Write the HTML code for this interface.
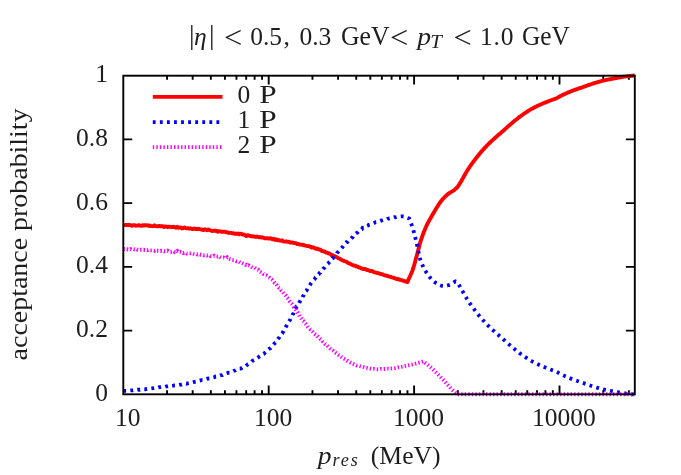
<!DOCTYPE html>
<html lang="en"><head><meta charset="utf-8"><title>acceptance probability</title>
<style>html,body{margin:0;padding:0;background:#fff}svg{display:block;will-change:transform}</style></head>
<body>
<svg width="681" height="475" viewBox="0 0 681 475" font-family="'Liberation Serif', serif" font-size="25.5" fill="#1e1e1e">
<rect width="681" height="475" fill="#fff"/>
<path d="M167.07,394.3 v-4.1 M167.07,75.7 v4.1 M192.67,394.3 v-4.1 M192.67,75.7 v4.1 M210.84,394.3 v-4.1 M210.84,75.7 v4.1 M224.93,394.3 v-4.1 M224.93,75.7 v4.1 M236.44,394.3 v-4.1 M236.44,75.7 v4.1 M246.18,394.3 v-4.1 M246.18,75.7 v4.1 M254.61,394.3 v-4.1 M254.61,75.7 v4.1 M262.05,394.3 v-4.1 M262.05,75.7 v4.1 M268.70,394.3 v-8.9 M268.70,75.7 v8.9 M312.47,394.3 v-4.1 M312.47,75.7 v4.1 M338.07,394.3 v-4.1 M338.07,75.7 v4.1 M356.24,394.3 v-4.1 M356.24,75.7 v4.1 M370.33,394.3 v-4.1 M370.33,75.7 v4.1 M381.84,394.3 v-4.1 M381.84,75.7 v4.1 M391.58,394.3 v-4.1 M391.58,75.7 v4.1 M400.01,394.3 v-4.1 M400.01,75.7 v4.1 M407.45,394.3 v-4.1 M407.45,75.7 v4.1 M414.10,394.3 v-8.9 M414.10,75.7 v8.9 M457.87,394.3 v-4.1 M457.87,75.7 v4.1 M483.47,394.3 v-4.1 M483.47,75.7 v4.1 M501.64,394.3 v-4.1 M501.64,75.7 v4.1 M515.73,394.3 v-4.1 M515.73,75.7 v4.1 M527.24,394.3 v-4.1 M527.24,75.7 v4.1 M536.98,394.3 v-4.1 M536.98,75.7 v4.1 M545.41,394.3 v-4.1 M545.41,75.7 v4.1 M552.85,394.3 v-4.1 M552.85,75.7 v4.1 M559.50,394.3 v-8.9 M559.50,75.7 v8.9 M603.27,394.3 v-4.1 M603.27,75.7 v4.1 M628.87,394.3 v-4.1 M628.87,75.7 v4.1 M123.3,330.58 h8.9 M634.8,330.58 h-8.9 M123.3,266.86 h8.9 M634.8,266.86 h-8.9 M123.3,203.14 h8.9 M634.8,203.14 h-8.9 M123.3,139.42 h8.9 M634.8,139.42 h-8.9" stroke="#000" stroke-width="1.9" fill="none"/>
<path d="M123.30,225.00 L124.50,225.15 L125.70,224.99 L126.90,224.81 L128.10,225.01 L129.30,224.86 L130.50,225.28 L131.69,225.78 L132.89,225.16 L134.09,225.16 L135.29,225.60 L136.49,225.59 L137.69,225.54 L138.89,225.21 L140.09,225.58 L141.29,225.89 L142.49,225.20 L143.69,225.57 L144.89,225.09 L146.08,225.36 L147.28,225.22 L148.48,225.85 L149.68,225.53 L150.88,226.14 L152.08,226.15 L153.28,226.08 L154.48,225.29 L155.68,226.05 L156.87,226.28 L158.07,226.39 L159.27,225.85 L160.47,226.28 L161.67,226.15 L162.87,226.27 L164.07,226.99 L165.27,226.38 L166.47,226.71 L167.66,227.10 L168.86,226.64 L170.06,226.87 L171.26,227.02 L172.46,227.07 L173.65,226.68 L174.85,227.23 L176.05,227.76 L177.25,226.80 L178.44,227.75 L179.64,227.57 L180.84,227.39 L182.03,228.43 L183.23,228.08 L184.43,227.48 L185.62,228.03 L186.82,228.32 L188.01,228.14 L189.21,228.56 L190.40,228.40 L191.60,228.77 L192.79,229.16 L193.99,228.51 L195.18,228.94 L196.38,228.81 L197.57,229.14 L198.77,228.78 L199.96,229.11 L201.16,229.37 L202.35,229.88 L203.54,230.09 L204.74,229.32 L205.93,229.63 L207.13,230.27 L208.32,229.44 L209.51,230.12 L210.71,230.38 L211.90,230.99 L213.09,230.91 L214.29,230.68 L215.48,230.79 L216.67,230.97 L217.86,231.74 L219.06,231.17 L220.25,231.35 L221.44,231.73 L222.63,231.70 L223.82,231.82 L225.01,231.64 L226.20,232.19 L227.39,232.19 L228.58,232.93 L229.77,232.91 L230.96,232.84 L232.15,233.26 L233.33,233.08 L234.52,233.76 L235.70,233.57 L236.89,233.97 L238.07,233.51 L239.26,234.27 L240.44,233.76 L241.62,233.84 L242.81,234.64 L243.99,234.63 L245.17,235.19 L246.36,236.10 L247.54,235.24 L248.73,235.49 L249.92,235.96 L251.10,236.23 L252.29,236.18 L253.48,236.34 L254.67,236.81 L255.85,236.92 L257.04,236.57 L258.23,237.05 L259.42,237.26 L260.61,237.07 L261.80,237.66 L262.98,237.47 L264.17,238.23 L265.36,238.15 L266.55,238.29 L267.73,238.26 L268.92,238.59 L270.10,238.19 L271.29,238.65 L272.47,239.31 L273.66,238.73 L274.84,239.84 L276.03,239.24 L277.21,240.20 L278.40,239.91 L279.58,240.60 L280.76,240.61 L281.94,240.31 L283.13,241.35 L284.31,241.62 L285.49,241.38 L286.67,241.54 L287.85,241.80 L289.03,241.79 L290.20,242.62 L291.38,242.38 L292.56,242.76 L293.73,242.80 L294.90,243.10 L296.08,243.17 L297.25,244.14 L298.42,244.00 L299.59,244.57 L300.76,244.58 L301.93,244.65 L303.10,245.02 L304.27,245.24 L305.43,245.67 L306.60,245.85 L307.77,246.16 L308.93,246.16 L310.09,246.61 L311.25,247.56 L312.41,247.27 L313.57,247.49 L314.72,248.20 L315.86,248.84 L317.00,248.49 L318.12,249.22 L319.24,249.55 L320.36,249.71 L321.47,250.78 L322.59,251.02 L323.71,251.48 L324.82,251.73 L325.93,252.48 L327.04,252.69 L328.15,253.25 L329.25,253.49 L330.35,253.95 L331.45,255.05 L332.54,255.10 L333.63,255.80 L334.71,256.24 L335.78,256.68 L336.85,257.21 L337.92,258.02 L338.99,258.35 L340.06,258.92 L341.14,259.49 L342.23,260.27 L343.31,260.67 L344.39,261.12 L345.48,261.42 L346.56,261.76 L347.65,262.78 L348.74,263.28 L349.83,263.54 L350.93,264.18 L352.03,264.70 L353.13,265.18 L354.24,265.65 L355.36,265.80 L356.48,266.64 L357.60,266.49 L358.73,267.33 L359.86,267.66 L361.00,268.13 L362.13,268.71 L363.27,269.02 L364.41,268.88 L365.55,269.15 L366.69,270.01 L367.83,270.02 L368.98,270.57 L370.12,271.08 L371.27,270.96 L372.42,271.22 L373.57,272.00 L374.72,272.30 L375.88,272.59 L377.02,272.98 L378.17,273.17 L379.32,273.40 L380.47,273.98 L381.62,274.18 L382.77,274.41 L383.92,275.12 L385.07,275.37 L386.23,275.78 L387.38,275.89 L388.53,276.28 L389.68,276.56 L390.83,276.91 L391.99,277.42 L393.14,277.59 L394.30,278.10 L395.45,278.43 L396.60,279.02 L397.76,278.82 L398.91,279.51 L400.06,279.71 L400.70,279.90 L401.43,280.13 L402.10,280.34 L402.72,280.53 L403.29,280.72 L403.82,280.90 L404.32,281.07 L404.81,281.24 L405.29,281.41 L405.77,281.58 L406.26,281.75 L406.77,281.92 L407.30,282.10 L407.75,281.11 L408.20,280.13 L408.65,279.16 L409.11,278.20 L409.56,277.23 L410.02,276.26 L410.47,275.28 L410.91,274.29 L411.35,273.28 L411.78,272.25 L412.20,271.19 L412.60,270.10 L412.99,268.98 L413.36,267.83 L413.73,266.65 L414.08,265.46 L414.43,264.25 L414.77,263.02 L415.11,261.78 L415.44,260.53 L415.78,259.27 L416.11,258.02 L416.45,256.76 L416.80,255.50 L417.15,254.23 L417.49,252.95 L417.82,251.65 L418.16,250.34 L418.49,249.02 L418.83,247.70 L419.17,246.38 L419.52,245.07 L419.87,243.78 L420.24,242.50 L420.61,241.24 L421.00,240.00 L421.40,238.78 L421.82,237.55 L422.25,236.33 L422.70,235.11 L423.15,233.91 L423.60,232.72 L424.06,231.55 L424.51,230.41 L424.97,229.30 L425.42,228.23 L425.87,227.19 L426.30,226.20 L426.73,225.25 L427.16,224.35 L427.59,223.48 L428.03,222.64 L428.46,221.84 L428.88,221.06 L429.30,220.31 L429.72,219.58 L430.13,218.86 L430.53,218.17 L430.92,217.48 L431.30,216.80 L431.67,216.14 L432.02,215.52 L432.36,214.92 L432.69,214.35 L433.02,213.79 L433.34,213.25 L433.66,212.72 L433.97,212.19 L434.30,211.65 L434.62,211.11 L434.96,210.57 L435.30,210.00 L435.65,209.42 L436.01,208.83 L436.37,208.23 L436.73,207.62 L437.10,207.02 L437.47,206.41 L437.84,205.81 L438.21,205.22 L438.58,204.64 L438.96,204.08 L439.33,203.53 L439.70,203.00 L440.07,202.49 L440.45,201.99 L440.82,201.50 L441.20,201.03 L441.57,200.57 L441.95,200.11 L442.33,199.67 L442.70,199.24 L443.08,198.81 L443.45,198.40 L443.83,198.00 L444.20,197.60 L444.57,197.22 L444.93,196.84 L445.29,196.48 L445.65,196.13 L446.00,195.79 L446.36,195.46 L446.72,195.14 L447.09,194.82 L447.45,194.51 L447.83,194.20 L448.21,193.90 L448.60,193.60 L449.00,193.31 L449.43,193.02 L449.86,192.74 L450.30,192.47 L450.75,192.20 L451.19,191.94 L451.64,191.69 L452.08,191.43 L452.51,191.17 L452.92,190.92 L453.32,190.66 L453.70,190.40 L454.06,190.14 L454.40,189.88 L454.72,189.62 L455.04,189.36 L455.34,189.10 L455.64,188.84 L455.93,188.59 L456.22,188.33 L456.51,188.07 L456.80,187.82 L457.10,187.56 L457.40,187.30 L457.65,186.92 L457.88,186.55 L458.12,186.20 L458.35,185.85 L458.58,185.50 L458.81,185.14 L459.05,184.78 L459.30,184.40 L459.55,183.99 L459.82,183.56 L460.10,183.10 L460.40,182.60 L460.72,182.06 L461.05,181.47 L461.40,180.85 L461.76,180.21 L462.13,179.54 L462.51,178.86 L462.90,178.16 L463.28,177.47 L463.67,176.78 L464.05,176.10 L464.43,175.44 L464.80,174.80 L465.16,174.18 L465.51,173.58 L465.86,172.99 L466.20,172.40 L466.55,171.82 L466.89,171.24 L467.25,170.65 L467.61,170.07 L467.98,169.47 L468.37,168.86 L468.77,168.24 L469.20,167.60 L469.65,166.94 L470.12,166.26 L470.60,165.57 L471.10,164.86 L471.62,164.15 L472.14,163.43 L472.67,162.71 L473.20,161.99 L473.73,161.28 L474.26,160.57 L474.78,159.88 L475.30,159.20 L475.81,158.53 L476.32,157.87 L476.82,157.22 L477.33,156.58 L477.83,155.94 L478.34,155.30 L478.85,154.67 L479.36,154.03 L479.88,153.40 L480.41,152.77 L480.95,152.14 L481.50,151.50 L482.06,150.86 L482.63,150.21 L483.22,149.56 L483.81,148.91 L484.40,148.27 L485.01,147.62 L485.61,146.98 L486.21,146.34 L486.82,145.71 L487.42,145.10 L488.01,144.49 L488.60,143.90 L489.18,143.32 L489.75,142.77 L490.33,142.22 L490.89,141.68 L491.46,141.15 L492.03,140.63 L492.59,140.11 L493.16,139.60 L493.74,139.08 L494.32,138.56 L494.90,138.03 L495.50,137.50 L496.10,136.96 L496.72,136.42 L497.34,135.88 L497.96,135.34 L498.59,134.80 L499.23,134.26 L499.86,133.71 L500.49,133.17 L501.12,132.63 L501.75,132.08 L502.38,131.54 L503.00,131.00 L503.61,130.46 L504.19,129.94 L504.77,129.42 L505.34,128.90 L505.91,128.38 L506.48,127.86 L507.06,127.34 L507.66,126.80 L508.28,126.25 L508.92,125.69 L509.59,125.10 L510.30,124.50 L511.05,123.87 L511.83,123.20 L512.64,122.52 L513.48,121.81 L514.34,121.09 L515.21,120.37 L516.10,119.64 L516.99,118.92 L517.87,118.21 L518.76,117.52 L519.64,116.84 L520.50,116.20 L521.36,115.58 L522.21,114.96 L523.07,114.35 L523.93,113.76 L524.79,113.17 L525.65,112.60 L526.51,112.04 L527.37,111.49 L528.23,110.95 L529.09,110.42 L529.94,109.90 L530.80,109.40 L531.65,108.91 L532.51,108.44 L533.36,107.98 L534.21,107.54 L535.06,107.10 L535.91,106.68 L536.76,106.27 L537.60,105.86 L538.45,105.46 L539.30,105.07 L540.15,104.68 L541.00,104.30 L541.87,103.92 L542.76,103.53 L543.66,103.16 L544.58,102.78 L545.49,102.41 L546.40,102.06 L547.29,101.71 L548.16,101.37 L548.99,101.05 L549.78,100.75 L550.52,100.46 L551.20,100.20 L551.82,99.96 L552.38,99.75 L552.89,99.57 L553.37,99.41 L553.81,99.26 L554.22,99.12 L554.61,98.98 L555.00,98.85 L555.38,98.71 L555.77,98.56 L556.18,98.39 L556.60,98.20 L557.02,98.00 L557.41,97.80 L557.77,97.60 L558.13,97.39 L558.48,97.18 L558.84,96.96 L559.22,96.73 L559.63,96.49 L560.07,96.24 L560.55,95.97 L561.09,95.70 L561.70,95.40 L562.38,95.08 L563.12,94.74 L563.91,94.37 L564.75,93.99 L565.62,93.60 L566.53,93.20 L567.45,92.80 L568.37,92.40 L569.30,92.00 L570.22,91.62 L571.13,91.25 L572.00,90.90 L572.86,90.57 L573.72,90.25 L574.58,89.94 L575.43,89.63 L576.29,89.34 L577.15,89.04 L578.01,88.75 L578.87,88.47 L579.72,88.18 L580.58,87.89 L581.44,87.60 L582.30,87.30 L583.16,87.00 L584.02,86.69 L584.88,86.39 L585.73,86.08 L586.59,85.77 L587.45,85.46 L588.31,85.16 L589.17,84.86 L590.02,84.56 L590.88,84.27 L591.74,83.98 L592.60,83.70 L593.46,83.43 L594.32,83.15 L595.18,82.89 L596.03,82.62 L596.89,82.36 L597.75,82.11 L598.61,81.86 L599.47,81.61 L600.33,81.37 L601.18,81.14 L602.04,80.92 L602.90,80.70 L603.76,80.49 L604.62,80.29 L605.48,80.10 L606.33,79.92 L607.19,79.75 L608.05,79.58 L608.91,79.41 L609.77,79.24 L610.63,79.08 L611.48,78.92 L612.34,78.76 L613.20,78.60 L614.06,78.44 L614.91,78.28 L615.75,78.12 L616.60,77.96 L617.44,77.81 L618.29,77.66 L619.14,77.51 L619.99,77.36 L620.85,77.21 L621.73,77.07 L622.61,76.94 L623.50,76.80 L624.41,76.67 L625.33,76.54 L626.25,76.42 L627.19,76.30 L628.14,76.19 L629.09,76.07 L630.04,75.96 L631.00,75.85 L631.95,75.74 L632.91,75.63 L633.86,75.52 L634.80,75.40" stroke="#ff0000" stroke-width="3.9" fill="none" stroke-linejoin="round"/>
<path d="M123.30,391.00 L124.50,390.80 L125.69,390.78 L126.89,390.78 L128.09,390.63 L129.28,390.56 L130.48,390.44 L131.68,390.47 L132.87,390.28 L134.07,390.01 L135.27,390.04 L136.46,389.83 L137.66,389.61 L138.85,389.73 L140.05,389.77 L141.24,389.54 L142.43,389.30 L143.63,389.19 L144.82,389.24 L146.01,389.01 L147.20,388.86 L148.39,388.71 L149.58,388.57 L150.77,388.50 L151.97,388.33 L153.16,388.14 L154.35,387.87 L155.54,387.87 L156.73,387.60 L157.92,387.63 L159.11,387.23 L160.30,387.20 L161.49,387.06 L162.68,386.77 L163.87,386.96 L165.06,386.79 L166.25,386.44 L167.45,386.44 L168.64,386.26 L169.83,385.78 L171.02,385.96 L172.21,385.78 L173.40,385.65 L174.59,385.36 L175.78,385.30 L176.97,385.14 L178.16,385.14 L179.35,384.85 L180.53,384.63 L181.72,384.62 L182.90,384.15 L184.08,383.96 L185.26,383.56 L186.44,383.77 L187.61,383.46 L188.79,383.21 L189.96,382.94 L191.14,382.61 L192.31,382.37 L193.48,382.05 L194.65,381.80 L195.83,381.57 L196.99,381.51 L198.16,381.10 L199.33,380.74 L200.50,380.39 L201.67,380.10 L202.84,380.16 L204.00,379.72 L205.17,379.38 L206.34,379.03 L207.50,378.63 L208.67,378.51 L209.84,378.38 L211.00,377.89 L212.17,377.62 L213.33,377.33 L214.49,377.08 L215.65,376.49 L216.81,376.40 L217.97,375.98 L219.12,375.94 L220.27,375.33 L221.42,375.22 L222.57,375.03 L223.71,374.35 L224.86,373.93 L226.00,373.70 L227.13,373.28 L228.27,372.72 L229.41,372.59 L230.54,372.48 L231.67,371.67 L232.80,371.27 L233.93,370.71 L235.05,370.54 L236.18,369.83 L237.30,369.43 L238.42,369.44 L239.53,368.59 L240.65,368.52 L241.75,368.14 L242.86,367.42 L243.95,366.99 L245.03,366.73 L246.08,365.74 L247.11,365.04 L248.09,364.21 L249.04,363.74 L249.96,363.26 L250.89,362.40 L251.86,361.31 L252.86,360.66 L253.87,360.08 L254.88,359.60 L255.89,358.85 L256.90,358.29 L257.90,357.64 L258.88,356.84 L259.86,356.19 L260.83,355.54 L261.81,354.79 L262.79,354.22 L263.77,353.82 L264.74,352.84 L265.71,352.01 L266.66,350.90 L267.59,350.60 L268.51,349.31 L269.40,348.63 L270.28,348.30 L271.12,347.42 L271.95,346.37 L272.77,345.14 L273.57,344.54 L274.36,343.57 L275.13,342.95 L275.89,342.39 L276.64,340.99 L277.38,339.81 L278.10,338.76 L278.81,338.05 L279.51,337.05 L280.20,335.84 L280.88,335.15 L281.55,333.85 L282.20,333.38 L282.84,332.35 L283.47,331.34 L284.09,329.94 L284.70,329.14 L285.31,327.95 L285.91,326.85 L286.51,325.82 L287.10,324.55 L287.69,323.47 L288.28,322.96 L288.86,321.68 L289.45,320.73 L290.03,319.87 L290.61,318.15 L291.19,317.33 L291.76,316.51 L292.32,315.50 L292.86,314.24 L293.38,313.51 L293.88,312.22 L294.38,310.77 L294.89,309.75 L295.42,309.11 L295.99,307.97 L296.59,306.34 L297.23,306.14 L297.89,304.95 L298.55,304.13 L299.19,302.69 L299.83,301.69 L300.46,300.46 L301.07,300.35 L301.67,298.63 L302.26,298.03 L302.85,296.42 L303.45,295.58 L304.04,294.07 L304.64,293.36 L305.24,292.67 L305.85,291.07 L306.48,290.63 L307.10,289.42 L307.74,288.06 L308.39,287.19 L309.05,286.20 L309.73,285.31 L310.41,284.20 L311.12,283.16 L311.83,282.32 L312.56,281.19 L313.30,280.18 L314.06,279.56 L314.81,278.86 L315.58,277.34 L316.35,276.80 L317.13,275.72 L317.92,274.73 L318.70,274.28 L319.49,273.04 L320.28,272.63 L321.08,271.17 L321.88,270.56 L322.68,269.52 L323.48,268.50 L324.28,267.93 L325.08,266.86 L325.88,266.15 L326.69,265.10 L327.49,263.96 L328.29,263.31 L329.10,262.45 L329.90,261.77 L330.70,260.43 L331.49,259.74 L332.28,258.44 L333.07,258.10 L333.86,256.78 L334.64,255.70 L335.43,255.21 L336.21,254.57 L337.00,253.05 L337.78,252.24 L338.56,251.41 L339.35,250.42 L340.13,249.86 L340.92,248.68 L341.70,247.79 L342.49,247.18 L343.28,245.98 L344.08,245.35 L344.88,244.14 L345.69,243.21 L346.52,242.20 L347.38,242.18 L348.28,240.90 L349.21,240.27 L350.09,239.40 L350.95,238.60 L351.78,237.71 L352.62,237.25 L353.46,235.76 L354.32,234.82 L355.21,234.12 L356.10,233.25 L357.00,232.90 L357.91,232.14 L358.84,231.00 L359.79,230.18 L360.75,229.67 L361.72,229.33 L362.71,227.79 L363.72,227.83 L364.75,226.89 L365.80,226.74 L366.87,225.77 L367.95,225.41 L369.05,224.67 L370.15,224.30 L371.26,224.30 L372.38,223.76 L373.51,223.13 L374.65,222.68 L375.80,222.14 L376.95,222.07 L378.09,221.77 L379.23,221.38 L380.37,221.00 L381.51,220.43 L382.65,220.26 L383.80,219.91 L384.95,219.82 L386.11,219.60 L387.27,218.94 L388.43,218.54 L389.60,218.38 L390.77,218.03 L391.94,217.75 L393.12,217.62 L394.29,217.22 L395.48,217.29 L396.66,216.98 L397.85,216.88 L399.04,216.65 L400.03,216.56 L400.56,216.50 L401.07,216.46 L401.59,216.43 L402.10,216.41 L402.60,216.42 L403.11,216.45 L403.60,216.50 L404.09,216.58 L404.57,216.69 L405.04,216.83 L405.51,216.99 L405.98,217.16 L406.44,217.35 L406.90,217.55 L407.36,217.74 L407.81,217.94 L408.27,218.14 L408.74,218.33 L409.20,218.50 L409.42,219.07 L409.64,219.65 L409.86,220.22 L410.08,220.79 L410.30,221.36 L410.52,221.94 L410.75,222.51 L410.96,223.09 L411.18,223.66 L411.39,224.24 L411.60,224.82 L411.80,225.40 L412.00,225.99 L412.20,226.58 L412.39,227.17 L412.58,227.77 L412.77,228.36 L412.96,228.96 L413.14,229.56 L413.32,230.16 L413.49,230.75 L413.67,231.34 L413.84,231.92 L414.00,232.50 L414.16,233.07 L414.31,233.63 L414.46,234.18 L414.60,234.72 L414.74,235.26 L414.88,235.81 L415.01,236.35 L415.14,236.90 L415.28,237.46 L415.42,238.02 L415.56,238.60 L415.70,239.20 L415.84,239.80 L415.99,240.40 L416.13,241.00 L416.27,241.61 L416.42,242.22 L416.56,242.84 L416.71,243.48 L416.86,244.14 L417.01,244.81 L417.17,245.51 L417.33,246.24 L417.50,247.00 L417.67,247.80 L417.85,248.66 L418.02,249.55 L418.20,250.47 L418.38,251.41 L418.57,252.37 L418.76,253.33 L418.96,254.27 L419.16,255.21 L419.36,256.11 L419.58,256.98 L419.80,257.80 L420.03,258.58 L420.26,259.34 L420.50,260.08 L420.74,260.79 L420.98,261.49 L421.24,262.18 L421.50,262.85 L421.76,263.51 L422.04,264.16 L422.32,264.81 L422.60,265.45 L422.90,266.10 L423.20,266.74 L423.50,267.36 L423.81,267.97 L424.11,268.57 L424.43,269.16 L424.76,269.74 L425.09,270.33 L425.44,270.91 L425.80,271.50 L426.18,272.09 L426.58,272.69 L427.00,273.30 L427.44,273.93 L427.89,274.58 L428.35,275.24 L428.83,275.91 L429.33,276.58 L429.84,277.25 L430.36,277.91 L430.90,278.56 L431.45,279.19 L432.02,279.79 L432.60,280.36 L433.20,280.90 L433.82,281.42 L434.47,281.92 L435.15,282.42 L435.85,282.91 L436.57,283.37 L437.29,283.81 L438.01,284.22 L438.74,284.60 L439.45,284.95 L440.16,285.24 L440.84,285.50 L441.50,285.70 L442.14,285.85 L442.77,285.95 L443.39,286.00 L444.00,286.01 L444.60,285.99 L445.19,285.93 L445.78,285.84 L446.37,285.73 L446.95,285.59 L447.54,285.44 L448.12,285.28 L448.70,285.10 L449.28,284.90 L449.86,284.66 L450.43,284.39 L451.00,284.10 L451.56,283.78 L452.12,283.44 L452.69,283.10 L453.25,282.75 L453.81,282.40 L454.37,282.05 L454.93,281.72 L455.50,281.40 L455.65,281.50 L455.80,281.58 L455.95,281.65 L456.09,281.71 L456.24,281.77 L456.38,281.84 L456.53,281.92 L456.69,282.01 L456.85,282.14 L457.02,282.29 L457.20,282.47 L457.40,282.70 L457.61,282.96 L457.82,283.25 L458.04,283.56 L458.27,283.90 L458.50,284.26 L458.74,284.64 L459.00,285.05 L459.26,285.48 L459.53,285.93 L459.81,286.40 L460.10,286.89 L460.40,287.40 L460.72,287.94 L461.05,288.53 L461.40,289.15 L461.76,289.79 L462.13,290.46 L462.51,291.14 L462.90,291.84 L463.28,292.53 L463.67,293.22 L464.05,293.90 L464.43,294.56 L464.80,295.20 L465.16,295.82 L465.51,296.42 L465.86,297.01 L466.20,297.60 L466.55,298.18 L466.89,298.76 L467.25,299.35 L467.61,299.93 L467.98,300.53 L468.37,301.14 L468.77,301.76 L469.20,302.40 L469.65,303.06 L470.12,303.74 L470.60,304.43 L471.10,305.14 L471.62,305.85 L472.14,306.57 L472.67,307.29 L473.20,308.01 L473.73,308.72 L474.26,309.43 L474.78,310.12 L475.30,310.80 L475.81,311.47 L476.32,312.12 L476.82,312.78 L477.33,313.42 L477.83,314.06 L478.34,314.70 L478.85,315.33 L479.36,315.97 L479.88,316.60 L480.41,317.23 L480.95,317.86 L481.50,318.50 L482.06,319.14 L482.63,319.79 L483.22,320.44 L483.81,321.09 L484.40,321.73 L485.01,322.38 L485.61,323.02 L486.21,323.66 L486.82,324.29 L487.42,324.90 L488.01,325.51 L488.60,326.10 L489.18,326.68 L489.75,327.23 L490.33,327.78 L490.89,328.32 L491.46,328.85 L492.03,329.37 L492.59,329.89 L493.16,330.40 L493.74,330.92 L494.32,331.44 L494.90,331.97 L495.50,332.50 L496.10,333.04 L496.72,333.58 L497.34,334.12 L497.96,334.66 L498.59,335.20 L499.23,335.74 L499.86,336.29 L500.49,336.83 L501.12,337.37 L501.75,337.92 L502.38,338.46 L503.00,339.00 L503.61,339.54 L504.19,340.06 L504.77,340.58 L505.34,341.10 L505.91,341.62 L506.48,342.14 L507.06,342.66 L507.66,343.20 L508.28,343.75 L508.92,344.31 L509.59,344.90 L510.30,345.50 L511.05,346.13 L511.83,346.80 L512.64,347.48 L513.48,348.19 L514.34,348.91 L515.21,349.63 L516.10,350.36 L516.99,351.08 L517.87,351.79 L518.76,352.48 L519.64,353.16 L520.50,353.80 L521.36,354.42 L522.21,355.04 L523.07,355.65 L523.93,356.24 L524.79,356.83 L525.65,357.40 L526.51,357.96 L527.37,358.51 L528.23,359.05 L529.09,359.58 L529.94,360.10 L530.80,360.60 L531.65,361.09 L532.51,361.56 L533.36,362.02 L534.21,362.46 L535.06,362.90 L535.91,363.32 L536.76,363.73 L537.60,364.14 L538.45,364.54 L539.30,364.93 L540.15,365.32 L541.00,365.70 L541.87,366.08 L542.76,366.47 L543.66,366.84 L544.58,367.22 L545.49,367.59 L546.40,367.94 L547.29,368.29 L548.16,368.63 L548.99,368.95 L549.78,369.25 L550.52,369.54 L551.20,369.80 L551.82,370.04 L552.38,370.25 L552.89,370.43 L553.37,370.59 L553.81,370.74 L554.22,370.88 L554.61,371.02 L555.00,371.15 L555.38,371.29 L555.77,371.44 L556.18,371.61 L556.60,371.80 L557.02,372.00 L557.41,372.20 L557.77,372.40 L558.13,372.61 L558.48,372.82 L558.84,373.04 L559.22,373.27 L559.63,373.51 L560.07,373.76 L560.55,374.03 L561.09,374.30 L561.70,374.60 L562.38,374.92 L563.12,375.26 L563.91,375.63 L564.75,376.01 L565.62,376.40 L566.53,376.80 L567.45,377.20 L568.37,377.60 L569.30,378.00 L570.22,378.38 L571.13,378.75 L572.00,379.10 L572.86,379.43 L573.72,379.75 L574.58,380.06 L575.43,380.37 L576.29,380.66 L577.15,380.96 L578.01,381.25 L578.87,381.53 L579.72,381.82 L580.58,382.11 L581.44,382.40 L582.30,382.70 L583.16,383.00 L584.02,383.31 L584.88,383.61 L585.73,383.92 L586.59,384.23 L587.45,384.54 L588.31,384.84 L589.17,385.14 L590.02,385.44 L590.88,385.73 L591.74,386.02 L592.60,386.30 L593.46,386.57 L594.32,386.85 L595.18,387.11 L596.03,387.38 L596.89,387.64 L597.75,387.89 L598.61,388.14 L599.47,388.39 L600.33,388.63 L601.18,388.86 L602.04,389.08 L602.90,389.30 L603.76,389.51 L604.62,389.71 L605.48,389.90 L606.33,390.08 L607.19,390.25 L608.05,390.43 L608.91,390.59 L609.77,390.76 L610.63,390.92 L611.48,391.08 L612.34,391.24 L613.20,391.40 L614.06,391.56 L614.91,391.72 L615.75,391.88 L616.60,392.04 L617.44,392.19 L618.29,392.34 L619.14,392.49 L619.99,392.64 L620.85,392.79 L621.73,392.93 L622.61,393.06 L623.50,393.20 L624.41,393.33 L625.33,393.46 L626.25,393.58 L627.19,393.70 L628.14,393.81 L629.09,393.92 L630.04,394.04 L631.00,394.15 L631.95,394.26 L632.91,394.37 L633.86,394.48 L634.80,394.60" stroke="#0000ff" stroke-width="3.8" fill="none" stroke-dasharray="2.83 4.24"/>
<path d="M123.30,249.30 L124.50,249.00 L125.70,249.30 L126.90,249.23 L128.10,249.55 L129.30,249.50 L130.50,249.06 L131.70,249.61 L132.89,249.14 L134.09,249.44 L135.29,249.59 L136.49,248.99 L137.69,249.81 L138.89,249.87 L140.09,249.81 L141.29,249.76 L142.49,249.82 L143.69,249.65 L144.89,249.96 L146.09,249.91 L147.28,250.20 L148.48,249.79 L149.68,250.37 L150.88,250.40 L152.08,250.36 L153.28,250.31 L154.47,250.73 L155.67,249.99 L156.87,250.81 L158.07,250.80 L159.27,250.87 L160.47,250.97 L161.67,250.66 L162.86,250.87 L164.06,251.26 L165.26,251.25 L166.46,251.25 L167.66,250.71 L168.85,251.52 L170.05,251.83 L171.25,251.85 L172.44,251.66 L173.64,251.11 L174.84,252.10 L176.03,251.81 L177.23,251.06 L178.42,252.21 L179.62,251.65 L180.81,251.83 L182.01,252.18 L183.20,252.99 L184.39,252.53 L185.59,252.88 L186.78,253.54 L187.97,253.62 L189.17,253.14 L190.36,253.23 L191.55,253.00 L192.74,253.34 L193.93,253.88 L195.13,254.01 L196.32,254.05 L197.51,254.51 L198.70,254.03 L199.89,254.43 L201.08,254.86 L202.27,254.96 L203.46,255.28 L204.65,255.19 L205.84,255.09 L207.03,255.48 L208.22,255.15 L209.41,255.08 L210.60,256.03 L211.79,255.96 L212.98,256.26 L214.17,255.70 L215.36,256.34 L216.55,256.42 L217.74,256.50 L218.92,256.17 L220.11,257.03 L221.30,257.65 L222.48,257.64 L223.67,257.48 L224.85,257.88 L226.04,258.36 L227.22,257.33 L228.39,258.50 L229.57,258.99 L230.73,259.32 L231.89,259.99 L233.04,260.14 L234.18,260.24 L235.31,260.62 L236.45,261.16 L237.60,261.06 L238.73,261.62 L239.86,262.35 L240.97,263.16 L242.08,262.90 L243.18,263.42 L244.28,263.97 L245.40,264.81 L246.51,264.78 L247.63,265.72 L248.75,265.34 L249.87,266.04 L250.98,266.49 L252.08,267.29 L253.17,267.88 L254.24,267.59 L255.30,268.35 L256.35,269.33 L257.38,269.62 L258.41,269.97 L259.43,271.41 L260.44,271.88 L261.45,272.53 L262.46,272.88 L263.46,274.01 L264.46,274.28 L265.46,275.36 L266.45,275.42 L267.43,276.13 L268.39,277.17 L269.34,277.63 L270.27,278.81 L271.18,279.46 L272.08,279.90 L272.96,281.01 L273.84,281.71 L274.70,282.91 L275.55,283.31 L276.38,284.23 L277.21,285.58 L278.02,286.75 L278.82,287.58 L279.60,287.93 L280.37,288.90 L281.12,290.21 L281.86,290.68 L282.59,291.40 L283.32,292.66 L284.03,293.71 L284.75,294.32 L285.46,295.07 L286.18,296.09 L286.89,297.63 L287.60,298.21 L288.32,299.34 L289.03,300.40 L289.74,301.47 L290.45,302.19 L291.16,303.38 L291.86,303.99 L292.56,305.10 L293.26,305.91 L293.95,307.44 L294.64,308.12 L295.33,308.93 L296.00,310.02 L296.66,311.05 L297.30,312.30 L297.91,312.77 L298.51,313.94 L299.13,315.13 L299.77,316.85 L300.44,317.46 L301.14,318.19 L301.86,319.33 L302.60,320.59 L303.35,321.00 L304.11,321.90 L304.87,323.18 L305.64,323.94 L306.42,324.89 L307.20,325.54 L307.99,326.98 L308.78,327.83 L309.58,328.48 L310.38,329.39 L311.19,329.70 L312.01,331.15 L312.83,331.84 L313.68,332.83 L314.53,333.72 L315.39,334.35 L316.25,334.91 L317.13,336.15 L318.01,336.74 L318.89,337.64 L319.77,338.40 L320.65,339.27 L321.52,339.72 L322.39,341.21 L323.26,341.86 L324.12,342.86 L324.97,343.85 L325.83,344.34 L326.69,344.85 L327.55,345.85 L328.41,346.63 L329.29,347.58 L330.17,348.49 L331.06,348.94 L331.97,350.12 L332.90,350.57 L333.84,351.61 L334.80,352.27 L335.77,352.95 L336.74,353.68 L337.73,354.29 L338.73,354.95 L339.73,355.45 L340.74,356.36 L341.74,357.28 L342.75,357.95 L343.75,358.51 L344.75,359.08 L345.76,359.55 L346.76,360.50 L347.77,360.94 L348.79,361.57 L349.82,362.15 L350.87,362.79 L351.93,363.28 L353.01,363.85 L354.12,364.20 L355.24,364.71 L356.37,365.42 L357.52,365.49 L358.68,365.79 L359.84,366.19 L361.00,366.49 L362.17,366.57 L363.33,366.96 L364.50,367.37 L365.67,367.58 L366.84,367.83 L368.01,368.24 L369.18,368.24 L370.36,368.55 L371.54,368.71 L372.72,369.11 L373.91,368.93 L375.11,369.18 L376.30,369.26 L377.50,369.36 L378.70,369.31 L379.90,369.34 L381.10,369.02 L382.30,369.22 L383.50,369.08 L384.70,369.00 L385.90,369.06 L387.10,368.85 L388.29,368.66 L389.49,368.72 L390.68,368.48 L391.87,368.42 L393.06,368.35 L394.25,368.16 L395.43,368.08 L396.62,367.72 L397.80,367.39 L398.98,367.24 L400.16,367.08 L400.60,367.00 L401.58,366.81 L402.59,366.61 L403.62,366.40 L404.68,366.18 L405.75,365.96 L406.82,365.73 L407.89,365.49 L408.96,365.25 L410.01,365.01 L411.03,364.77 L412.03,364.54 L413.00,364.30 L413.93,364.07 L414.84,363.83 L415.72,363.59 L416.59,363.35 L417.44,363.11 L418.28,362.86 L419.11,362.62 L419.94,362.37 L420.77,362.13 L421.61,361.89 L422.45,361.64 L423.30,361.40 L423.98,361.94 L424.64,362.46 L425.30,362.96 L425.95,363.46 L426.61,363.96 L427.26,364.46 L427.93,364.98 L428.60,365.52 L429.30,366.08 L430.01,366.68 L430.74,367.32 L431.50,368.00 L432.29,368.73 L433.11,369.50 L433.95,370.31 L434.81,371.15 L435.68,372.02 L436.57,372.91 L437.46,373.81 L438.36,374.73 L439.26,375.65 L440.15,376.57 L441.03,377.49 L441.90,378.40 L442.78,379.33 L443.68,380.31 L444.60,381.32 L445.53,382.35 L446.46,383.39 L447.38,384.42 L448.28,385.43 L449.16,386.40 L449.99,387.33 L450.79,388.20 L451.52,388.99 L452.20,389.70 L452.81,390.31 L453.35,390.84 L453.84,391.30 L454.29,391.70 L454.69,392.06 L455.07,392.38 L455.44,392.67 L455.79,392.95 L456.15,393.23 L456.51,393.53 L456.89,393.85 L457.30,394.20 L634.80,394.20" stroke="#ff00ff" stroke-width="3.9" fill="none" stroke-dasharray="1.41 2.12"/>
<path d="M152.8,96.9 H222.5" stroke="#ff0000" stroke-width="3.9"/>
<path d="M152.8,122.1 H222.5" stroke="#0000ff" stroke-width="3.8" stroke-dasharray="2.83 4.24"/>
<path d="M152.8,147.1 H222.5" stroke="#ff00ff" stroke-width="3.9" stroke-dasharray="1.41 2.12"/>
<rect x="123.3" y="75.7" width="511.49999999999994" height="318.6" fill="none" stroke="#000" stroke-width="1.9"/>
<text x="237.6" y="102.9" text-anchor="start" >0</text>
<text x="259.3" y="102.9" text-anchor="start" textLength="17.4" lengthAdjust="spacingAndGlyphs">P</text>
<text x="237.6" y="127.9" text-anchor="start" >1</text>
<text x="259.3" y="127.9" text-anchor="start" textLength="17.4" lengthAdjust="spacingAndGlyphs">P</text>
<text x="237.6" y="152.9" text-anchor="start" >2</text>
<text x="259.3" y="152.9" text-anchor="start" textLength="17.4" lengthAdjust="spacingAndGlyphs">P</text>
<text x="107.9" y="400.8" text-anchor="end" >0</text>
<text x="107.9" y="337.08" text-anchor="end" >0.2</text>
<text x="107.9" y="273.36" text-anchor="end" >0.4</text>
<text x="107.9" y="209.64" text-anchor="end" >0.6</text>
<text x="107.9" y="145.92" text-anchor="end" >0.8</text>
<text x="107.9" y="82.2" text-anchor="end" >1</text>
<text x="127.7" y="426.4" text-anchor="middle" >10</text>
<text x="273.1" y="426.4" text-anchor="middle" >100</text>
<text x="418.5" y="426.4" text-anchor="middle" >1000</text>
<text x="563.9" y="426.4" text-anchor="middle" >10000</text>
<text><tspan x="188.9" y="43.8" font-size="27.8">|</tspan><tspan x="193.9" y="45.0" font-style="italic">η</tspan><tspan x="209.1" y="43.8" font-size="27.8">|</tspan><tspan x="223.9" y="48.0" font-size="32.4">&lt;</tspan><tspan x="250.2" y="45.0" >0.5</tspan><tspan x="283.6" y="45.0" >,</tspan><tspan x="299.4" y="45.0" >0.3</tspan><tspan x="340.9" y="45.0" font-size="26.6" lengthAdjust="spacingAndGlyphs" textLength="48.6">GeV</tspan><tspan x="390.1" y="48.0" font-size="32.4">&lt;</tspan><tspan x="417.2" y="45.0" font-style="italic" textLength="13.8" lengthAdjust="spacingAndGlyphs">p</tspan><tspan x="430.2" y="47.6" font-style="italic" font-size="17.8" textLength="11.6" lengthAdjust="spacingAndGlyphs">T</tspan><tspan x="453.5" y="48.0" font-size="32.4">&lt;</tspan><tspan x="479.9" y="45.0" textLength="33.7" lengthAdjust="spacing">1.0</tspan><tspan x="521.9" y="45.0" font-size="26.6" lengthAdjust="spacingAndGlyphs" textLength="47.9">GeV</tspan></text>
<text><tspan x="317.7" y="463.7" font-style="italic" textLength="13.8" lengthAdjust="spacingAndGlyphs">p</tspan><tspan x="332.6" y="466.2" font-style="italic" font-size="18.2" textLength="25.2" lengthAdjust="spacing">res</tspan><tspan x="370.8" y="463.7" textLength="69.8" lengthAdjust="spacingAndGlyphs">(MeV)</tspan></text>
<text transform="translate(26.6,360.4) rotate(-90)" textLength="252" lengthAdjust="spacingAndGlyphs">acceptance probability</text>
</svg>
</body></html>
